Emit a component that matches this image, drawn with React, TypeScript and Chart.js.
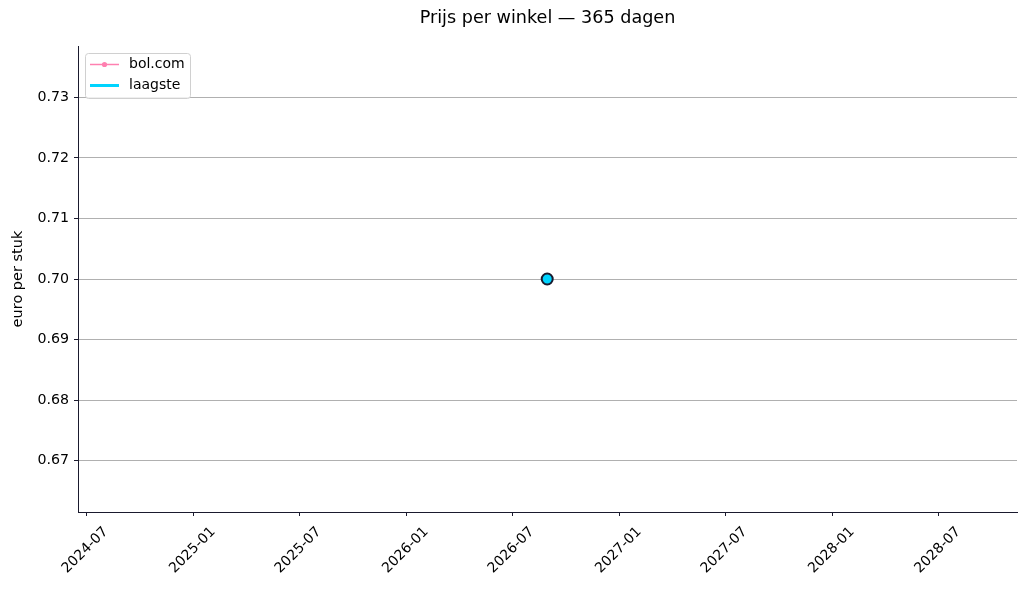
import React, { useEffect, useRef } from "react";
import { Chart, registerables } from "chart.js";

Chart.register(...registerables);

const dates: string[] = ["2026-08-30"];
const bolValues: number[] = [0.7];
const laagsteValues: number[] = [0.7];
const xTickLabels: string[] = [
  "2024-07", "2025-01", "2025-07", "2026-01", "2026-07",
  "2027-01", "2027-07", "2028-01", "2028-07",
];
const yTicks: number[] = [0.67, 0.68, 0.69, 0.7, 0.71, 0.72, 0.73];
const xRange: string[] = ["2024-06-17", "2028-11-12"];
const yRange: number[] = [0.6615, 0.7385];

const TITLE = "Prijs per winkel — 365 dagen";
const Y_LABEL = "euro per stuk";
const FONT = "'DejaVu Sans', sans-serif";
const AXIS_COLOR = "#1a1a2e";
const PINK = "#ff80b0";
const CYAN = "#00d4ff";

const toMs = (s: string) => {
  const p = s.split("-").map(Number);
  return Date.UTC(p[0], (p[1] || 1) - 1, p[2] || 1);
};

export default function App() {
  const ref = useRef<HTMLCanvasElement | null>(null);

  useEffect(() => {
    document.body.style.margin = "0";
    const canvas = ref.current!;
    const overlay = {
      id: "overlay",
      afterDraw(chart: any) {
        const ctx = chart.ctx as CanvasRenderingContext2D;
        const area = chart.chartArea;
        const xs = chart.scales.x;
        ctx.save();
        // title
        ctx.fillStyle = "#000";
        ctx.font = `17.6px ${FONT}`;
        ctx.textAlign = "center";
        ctx.textBaseline = "middle";
        ctx.fillText(TITLE, (area.left + area.right) / 2, 18);
        // y label
        ctx.save();
        ctx.translate(18, (area.top + area.bottom) / 2);
        ctx.rotate(-Math.PI / 2);
        ctx.font = `14.5px ${FONT}`;
        ctx.fillText(Y_LABEL, 0, 0);
        ctx.restore();
        // x tick labels rotated 45, centered under tick
        ctx.font = `14px ${FONT}`;
        xTickLabels.forEach((lab) => {
          const px = xs.getPixelForValue(toMs(lab));
          const w = ctx.measureText(lab).width;
          const h = 10;
          const half = ((w + h) * Math.SQRT1_2) / 2;
          ctx.save();
          ctx.translate(px - 1, area.bottom + 14 + half);
          ctx.rotate(-Math.PI / 4);
          ctx.textAlign = "center";
          ctx.textBaseline = "middle";
          ctx.fillText(lab, 0, 0);
          ctx.restore();
        });
        // legend
        const lx = area.left + 7, ly = area.top + 7, lw = 105, lh = 45;
        ctx.fillStyle = "rgba(255,255,255,0.8)";
        ctx.strokeStyle = "#d0d0d0";
        ctx.lineWidth = 1;
        ctx.beginPath();
        (ctx as any).roundRect(lx + 0.5, ly + 0.5, lw, lh, 3);
        ctx.fill();
        ctx.stroke();
        const entries = [
          { label: "bol.com", color: PINK, width: 1.5, dot: true },
          { label: "laagste", color: CYAN, width: 3, dot: false },
        ];
        entries.forEach((e, i) => {
          const yy = ly + 11.5 + i * 21;
          ctx.strokeStyle = e.color;
          ctx.lineWidth = e.width;
          ctx.beginPath();
          ctx.moveTo(lx + 5, yy);
          ctx.lineTo(lx + 34, yy);
          ctx.stroke();
          if (e.dot) {
            ctx.fillStyle = e.color;
            ctx.beginPath();
            ctx.arc(lx + 19.5, yy, 2.6, 0, Math.PI * 2);
            ctx.fill();
          }
          ctx.fillStyle = "#000";
          ctx.font = `14px ${FONT}`;
          ctx.textAlign = "left";
          ctx.textBaseline = "middle";
          ctx.fillText(e.label, lx + 44, yy);
        });
        ctx.restore();
      },
    };

    const chart = new Chart(canvas, {
      type: "line",
      data: {
        datasets: [
          {
            label: "bol.com",
            data: dates.map((d, i) => ({ x: toMs(d), y: bolValues[i] })),
            borderColor: PINK,
            backgroundColor: PINK,
            borderWidth: 1.5,
            pointRadius: 3,
            order: 1,
          },
          {
            label: "laagste",
            data: dates.map((d, i) => ({ x: toMs(d), y: laagsteValues[i] })),
            borderColor: CYAN,
            backgroundColor: CYAN,
            borderWidth: 3,
            pointRadius: 5.5,
            pointBackgroundColor: CYAN,
            pointBorderColor: AXIS_COLOR,
            pointBorderWidth: 2,
            order: 0,
          },
        ],
      },
      options: {
        animation: false,
        responsive: false,
        devicePixelRatio: 1,
        layout: { padding: { left: 0, top: 46, right: 9, bottom: 0 } },
        plugins: { legend: { display: false }, tooltip: { enabled: false }, title: { display: false } },
        scales: {
          x: {
            type: "linear",
            min: toMs(xRange[0]),
            max: toMs(xRange[1]),
            afterBuildTicks: (s: any) => {
              s.ticks = xTickLabels.map((l) => ({ value: toMs(l) }));
            },
            afterFit: (s: any) => {
              s.height = 78;
            },
            ticks: { display: false },
            grid: {
              drawOnChartArea: false,
              drawTicks: true,
              tickLength: 4,
              tickColor: AXIS_COLOR,
              lineWidth: 1,
            },
            border: { display: true, color: AXIS_COLOR, width: 1 },
          },
          y: {
            type: "linear",
            min: yRange[0],
            max: yRange[1],
            afterBuildTicks: (s: any) => {
              s.ticks = yTicks.map((v) => ({ value: v }));
            },
            afterFit: (s: any) => {
              s.width = 78;
            },
            ticks: {
              color: "#000",
              padding: 5,
              font: { family: FONT, size: 14.2 },
              callback: (v: any) => Number(v).toFixed(2),
            },
            grid: {
              color: "#b0b0b0",
              lineWidth: 1,
              drawTicks: true,
              tickLength: 4,
              tickColor: AXIS_COLOR,
            },
            border: { display: true, color: AXIS_COLOR, width: 1 },
          },
        },
      },
      plugins: [overlay],
    } as any);
    return () => chart.destroy();
  }, []);

  return (
    <div style={{ width: 1026, height: 590, background: "#fff" }}>
      <canvas ref={ref} width={1026} height={590} style={{ display: "block" }} />
    </div>
  );
}
